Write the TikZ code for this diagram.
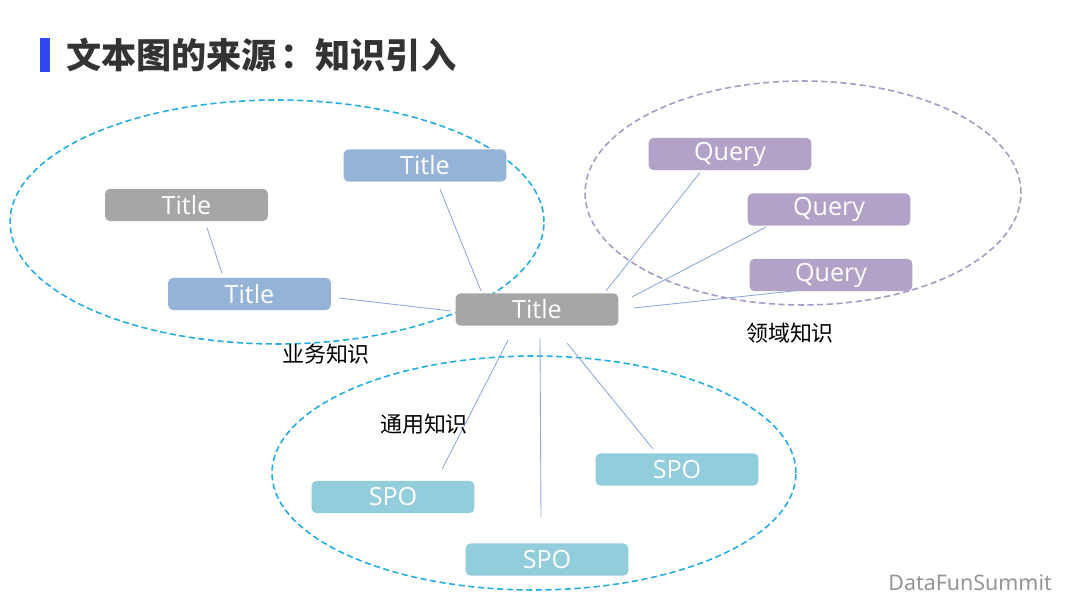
\documentclass[tikz,border=0pt]{standalone}
\usepackage{fontspec}
\setmainfont{Open Sans}
\newfontfamily\cjkfont{Noto Sans CJK SC}
\newfontfamily\brandfont{Noto Sans}
\usetikzlibrary{calc}
\definecolor{boxgray}{HTML}{A6A6A6}
\definecolor{boxblue}{HTML}{95B3D7}
\definecolor{boxpurple}{HTML}{B3A2C7}
\definecolor{boxcyan}{HTML}{92CDDC}
\definecolor{ringblue}{HTML}{22ADE6}
\definecolor{ringpurple}{HTML}{A999C6}
\definecolor{linkblue}{HTML}{8EA9DB}
\definecolor{barblue}{HTML}{3347F0}
\tikzset{
  card/.style={rounded corners=3pt,inner sep=0pt,minimum width=3.26cm,minimum height=0.65cm,
    text=white,font=\fontsize{14.3}{16}\selectfont},
  ring/.style={dashed,line width=0.9pt,dash pattern=on 3.5pt off 2pt},
  link/.style={linkblue,line width=0.5pt},
  tag/.style={font=\cjkfont\fontsize{12.5}{14}\selectfont,text=black}
}
\begin{document}
\begin{tikzpicture}[x=0.02cm,y=-0.02cm]
    \useasboundingbox (0,0) rectangle (1080,608);
    % heading
    \fill[barblue] (40,38) rectangle (50,72);
    \node[anchor=west,font=\cjkfont\bfseries\fontsize{20}{24}\selectfont,text=black!80] (head) at (60,55) {文本图的来源\hspace{0.1em}：知识引入};
    % knowledge rings
    \draw[ring,ringblue] (277,222) ellipse [x radius=5.34cm,y radius=2.44cm];
    \draw[ring,ringpurple] (803,193) ellipse [x radius=4.36cm,y radius=2.24cm];
    \draw[ring,ringblue] (534,473) ellipse [x radius=5.24cm,y radius=2.34cm];
    % cards
    \node[card,fill=boxgray] (gl) at (186.5,205) {Title};
    \node[card,fill=boxblue] (bt) at (425,165.5) {Title};
    \node[card,fill=boxblue] (bl) at (249.5,294) {Title};
    \node[card,fill=boxgray] (c) at (537,309.5) {Title};
    \node[card,fill=boxpurple] (q1) at (730,154) {Query};
    \node[card,fill=boxpurple] (q2) at (829,209.5) {Query};
    \node[card,fill=boxpurple] (q3) at (831,275) {Query};
    \node[card,fill=boxcyan] (sl) at (393,497) {SPO};
    \node[card,fill=boxcyan] (sr) at (677,469.5) {SPO};
    \node[card,fill=boxcyan] (sb) at (547,559.5) {SPO};
    % links
    \draw[link] ([shift={(20.5,6)}]gl.south) -- ([shift={(-27.5,-4)}]bl.north);
    \draw[link] ([shift={(15,7)}]bt.south) -- ([shift={(-56,-2)}]c.north);
    \draw[link] ([shift={(7.5,4)}]bl.east) -- ([shift={(-4,1.5)}]c.west);
    \draw[link] ([shift={(69,-2)}]c.north) -- ([shift={(-30,2)}]q1.south);
    \draw[link] ([shift={(13,-12.5)}]c.east) -- ([shift={(-63,1)}]q2.south);
    \draw[link] ([shift={(15,-1.5)}]c.east) -- ([shift={(-34,-1)}]q3.south);
    \draw[link] ([shift={(-29,14)}]c.south) -- ([shift={(49,-11)}]sl.north);
    \draw[link] ([shift={(3,12)}]c.south) -- ([shift={(-6,-26)}]sb.north);
    \draw[link] ([shift={(30,17)}]c.south) -- ([shift={(-24,-4)}]sr.north);
    % ring labels
    \node[tag] (t1) at (326,354) {业务知识};
    \node[tag] (t2) at (790,333) {领域知识};
    \node[tag] (t3) at (424,424) {通用知识};
    \node[anchor=east,font=\brandfont\fontsize{12.2}{14}\selectfont,text=black!42] (brand) at (1058,583) {DataFunSummit};
\end{tikzpicture}
\end{document}
